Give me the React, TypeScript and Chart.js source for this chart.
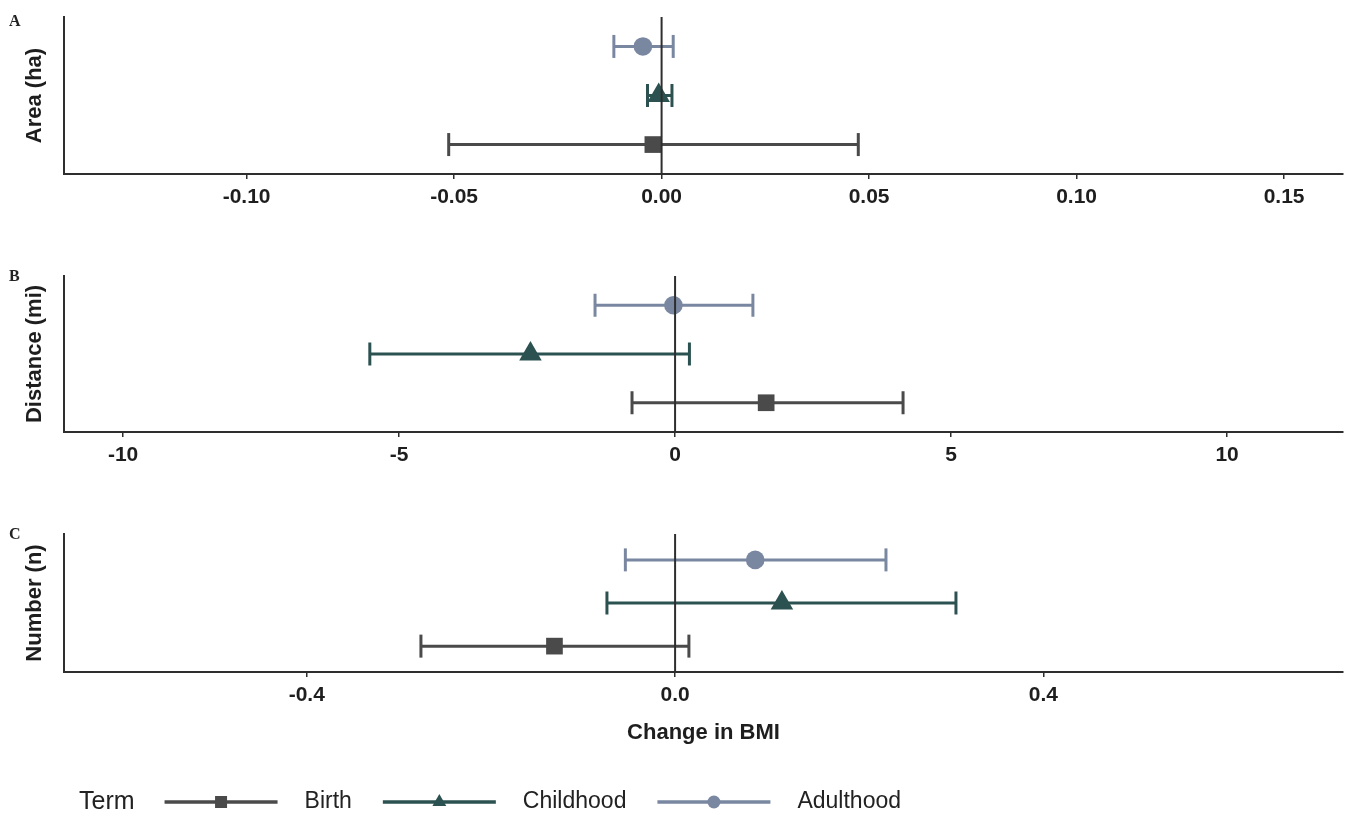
import React, { useEffect, useRef } from "react";
import { Chart, registerables } from "chart.js";

Chart.register(...registerables);

// ---- shared series info ----
const terms = ["Birth", "Childhood", "Adulthood"];
const rows = [1, 2, 3];
const colors = ["#4a4a4a", "#2b5250", "#7a87a1"];
const shapes = ["rect", "triangle", "circle"];
const markerRadius = [11.8, 13, 9.3];
const rowRange = [0.4, 3.6];

// ---- Panel A: Area (ha) ----
const areaEst = [-0.0021, -0.0007, -0.0045];
const areaLow = [-0.0513, -0.0034, -0.0115];
const areaHigh = [0.0474, 0.0025, 0.0028];
const areaTicks = [-0.1, -0.05, 0, 0.05, 0.1, 0.15];
const areaTickLabels = ["-0.10", "-0.05", "0.00", "0.05", "0.10", "0.15"];
const areaRange = [-0.144, 0.1642];

// ---- Panel B: Distance (mi) ----
const distEst = [1.65, -2.62, -0.03];
const distLow = [-0.78, -5.53, -1.45];
const distHigh = [4.13, 0.26, 1.41];
const distTicks = [-10, -5, 0, 5, 10];
const distTickLabels = ["-10", "-5", "0", "5", "10"];
const distRange = [-11.07, 12.1];

// ---- Panel C: Number (n) ----
const numEst = [-0.131, 0.116, 0.087];
const numLow = [-0.276, -0.074, -0.054];
const numHigh = [0.015, 0.305, 0.229];
const numTicks = [-0.4, 0, 0.4];
const numTickLabels = ["-0.4", "0.0", "0.4"];
const numRange = [-0.6636, 0.7253];

const AXIS_COLOR = "#2e2e2e";
const TEXT_COLOR = "#1e1e1e";
const SANS = '"Liberation Sans", Arial, Helvetica, sans-serif';

const panelLetterPlugin = {
  id: "panelLetter",
  afterDraw(chart: any, _args: any, opts: any) {
    if (!opts || !opts.text) return;
    const ctx = chart.ctx;
    ctx.save();
    ctx.font = 'bold 16px "Liberation Serif", "Times New Roman", serif';
    ctx.fillStyle = "#222";
    ctx.textBaseline = "middle";
    ctx.textAlign = "left";
    ctx.fillText(opts.text, opts.x, opts.y);
    ctx.restore();
  },
};

const termLegendPlugin = {
  id: "termLegend",
  afterDraw(chart: any, _args: any, opts: any) {
    if (!opts || !opts.show) return;
    const ctx = chart.ctx;
    const y = opts.y;
    ctx.save();
    ctx.textBaseline = "middle";
    ctx.textAlign = "left";
    ctx.fillStyle = "#222";
    ctx.font = `25px ${SANS}`;
    let x = opts.x;
    ctx.fillText("Term", x, y);
    x += ctx.measureText("Term").width + 30;
    ctx.font = `23px ${SANS}`;
    const keyLen = 113;
    terms.forEach((t, i) => {
      ctx.strokeStyle = colors[i];
      ctx.fillStyle = colors[i];
      ctx.lineWidth = 3.5;
      ctx.beginPath();
      ctx.moveTo(x, y);
      ctx.lineTo(x + keyLen, y);
      ctx.stroke();
      const cx = x + keyLen / 2;
      ctx.beginPath();
      if (shapes[i] === "rect") {
        ctx.rect(cx - 6, y - 6, 12, 12);
      } else if (shapes[i] === "triangle") {
        const r = 8;
        ctx.moveTo(cx, y - r);
        ctx.lineTo(cx + r * 0.866, y + r * 0.5);
        ctx.lineTo(cx - r * 0.866, y + r * 0.5);
        ctx.closePath();
      } else {
        ctx.arc(cx, y, 6.5, 0, Math.PI * 2);
      }
      ctx.fill();
      x += keyLen + 27;
      ctx.fillStyle = "#222";
      ctx.fillText(t, x, y);
      x += ctx.measureText(t).width + 31;
    });
    ctx.restore();
  },
};

type PanelSpec = {
  est: number[];
  low: number[];
  high: number[];
  ticks: number[];
  tickLabels: string[];
  range: number[];
  yTitle: string;
  xTitle?: string;
  letter: string;
  letterY: number;
  padTop: number;
  padBottom: number;
  xAxisHeight: number;
  legendY?: number;
};

function buildConfig(p: PanelSpec): any {
  const datasets: any[] = [];
  datasets.push({
    label: "zero",
    data: [
      { x: 0, y: rowRange[0] },
      { x: 0, y: rowRange[1] },
    ],
    showLine: true,
    borderColor: AXIS_COLOR,
    borderWidth: 2,
    pointRadius: 0,
    order: 0,
  });
  terms.forEach((t, i) => {
    datasets.push({
      label: t + " interval",
      data: [
        { x: p.low[i], y: rows[i] },
        { x: p.high[i], y: rows[i] },
      ],
      showLine: true,
      borderColor: colors[i],
      borderWidth: 3,
      pointStyle: "line",
      pointRotation: 90,
      pointRadius: 11.5,
      pointBorderWidth: 3,
      pointBorderColor: colors[i],
      pointBackgroundColor: colors[i],
      order: 2,
    });
    datasets.push({
      label: t,
      data: [{ x: p.est[i], y: rows[i] }],
      showLine: false,
      pointStyle: shapes[i],
      pointRadius: markerRadius[i],
      pointBackgroundColor: colors[i],
      pointBorderColor: colors[i],
      pointBorderWidth: 0,
      order: 1,
    });
  });

  return {
    type: "scatter",
    data: { datasets },
    plugins: [panelLetterPlugin, termLegendPlugin],
    options: {
      responsive: false,
      animation: false,
      devicePixelRatio: 1,
      events: [],
      layout: {
        autoPadding: false,
        padding: { top: p.padTop, bottom: p.padBottom, left: 0, right: 7 },
      },
      plugins: {
        legend: { display: false },
        tooltip: { enabled: false },
        panelLetter: { text: p.letter, x: 9, y: p.letterY },
        termLegend: { show: p.legendY !== undefined, x: 79, y: p.legendY },
      },
      scales: {
        x: {
          type: "linear",
          position: "bottom",
          min: p.range[0],
          max: p.range[1],
          afterBuildTicks: (axis: any) => {
            axis.ticks = p.ticks.map((v) => ({ value: v }));
          },
          afterFit: (axis: any) => {
            axis.height = p.xAxisHeight;
            axis.paddingLeft = 0;
            axis.paddingRight = 0;
          },
          ticks: {
            autoSkip: false,
            maxRotation: 0,
            padding: 6,
            color: TEXT_COLOR,
            font: { family: SANS, size: 21, weight: "bold" },
            callback: (_v: any, i: number) => p.tickLabels[i],
          },
          grid: {
            display: true,
            drawOnChartArea: false,
            drawTicks: true,
            tickLength: 5,
            color: AXIS_COLOR,
            lineWidth: 1.5,
          },
          border: { display: true, color: AXIS_COLOR, width: 2 },
          title: {
            display: !!p.xTitle,
            text: p.xTitle || "",
            color: TEXT_COLOR,
            font: { family: SANS, size: 22, weight: "bold" },
            padding: { top: 0, bottom: 11 },
          },
        },
        y: {
          type: "linear",
          position: "left",
          min: rowRange[0],
          max: rowRange[1],
          afterFit: (axis: any) => {
            axis.width = 64;
            axis.paddingTop = 0;
            axis.paddingBottom = 0;
          },
          ticks: { display: false },
          grid: { display: false },
          border: { display: true, color: AXIS_COLOR, width: 2 },
          title: {
            display: true,
            text: p.yTitle,
            color: TEXT_COLOR,
            font: { family: SANS, size: 22, weight: "bold" },
            padding: { top: 22, bottom: 0 },
          },
        },
      },
    },
  };
}

function Panel({ spec, top, height }: { spec: PanelSpec; top: number; height: number }) {
  const ref = useRef<HTMLCanvasElement>(null);
  useEffect(() => {
    if (!ref.current) return;
    const chart = new Chart(ref.current, buildConfig(spec));
    return () => chart.destroy();
  }, []);
  return (
    <canvas
      ref={ref}
      width={1350}
      height={height}
      style={{ position: "absolute", left: 0, top, width: 1350, height }}
    />
  );
}

const panelA: PanelSpec = {
  est: areaEst,
  low: areaLow,
  high: areaHigh,
  ticks: areaTicks,
  tickLabels: areaTickLabels,
  range: areaRange,
  yTitle: "Area (ha)",
  letter: "A",
  letterY: 22,
  padTop: 17,
  padBottom: 0,
  xAxisHeight: 56,
};

const panelB: PanelSpec = {
  est: distEst,
  low: distLow,
  high: distHigh,
  ticks: distTicks,
  tickLabels: distTickLabels,
  range: distRange,
  yTitle: "Distance (mi)",
  letter: "B",
  letterY: 27,
  padTop: 26,
  padBottom: 0,
  xAxisHeight: 48,
};

const panelC: PanelSpec = {
  est: numEst,
  low: numLow,
  high: numHigh,
  ticks: numTicks,
  tickLabels: numTickLabels,
  range: numRange,
  yTitle: "Number (n)",
  xTitle: "Change in BMI",
  letter: "C",
  letterY: 25,
  padTop: 24,
  padBottom: 60,
  xAxisHeight: 85,
  legendY: 292,
};

export default function App() {
  return (
    <div
      style={{
        position: "absolute",
        left: 0,
        top: 0,
        width: 1350,
        height: 817,
        background: "#ffffff",
        overflow: "hidden",
      }}
    >
      <Panel spec={panelA} top={0} height={230} />
      <Panel spec={panelB} top={250} height={230} />
      <Panel spec={panelC} top={510} height={307} />
    </div>
  );
}
